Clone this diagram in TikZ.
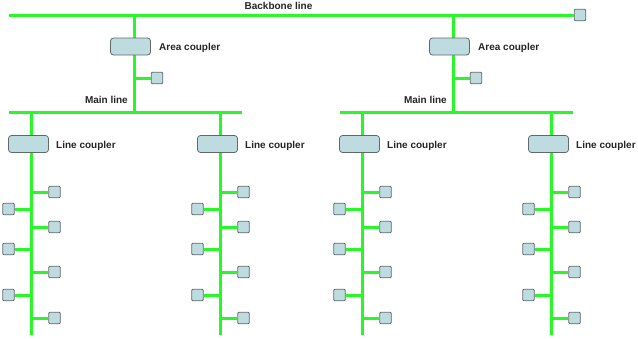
\documentclass[tikz,border=0pt]{standalone}
\usepackage{fontspec}
\setmainfont{Liberation Sans}
\definecolor{busgreen}{RGB}{40,248,40}
\definecolor{devfill}{RGB}{190,220,224}
\definecolor{devdraw}{RGB}{95,105,108}
\begin{document}
\begin{tikzpicture}[x=1pt,y=-1pt,
  bus/.style={draw=busgreen,line width=3pt},
  dev/.style={draw=devdraw,fill=devfill,line width=0.8pt,minimum width=11.5pt,minimum height=11.5pt,inner sep=0pt,rounded corners=1pt},
  coupler/.style={draw=devdraw,fill=devfill,line width=0.8pt,minimum width=40pt,minimum height=17pt,inner sep=0pt,rounded corners=3pt},
  lbl/.style={font=\bfseries\fontsize{10}{12}\selectfont,inner sep=0pt,text=black!85}]
\useasboundingbox (0,0) rectangle (638,338);
\fill[white] (0,0) rectangle (638,338);
% backbone
\coordinate (bbL) at (9,15);
\node[dev] (bbDev) at (580,15) {};
\draw[bus] (bbL) -- (bbDev.west);
\node[lbl] (bbLbl) at (278.5,6) {Backbone line};
% areas
\foreach \a/\x/\ml/\mr in {1/134/9/242, 2/453/340/573} {
  \coordinate (top\a) at (\x,15);
  \coordinate (ml\a) at (\x,112);
  \coordinate (mlL\a) at (\ml,112);
  \coordinate (mlR\a) at (\mr,112);
  \coordinate (st\a) at (\x,78);
  \draw[bus] (top\a) -- (ml\a);
  \draw[bus] (mlL\a) -- (mlR\a);
  \node[dev] (ad\a) at (\x+23,78) {};
  \draw[bus] (st\a) -- (ad\a.west);
  \node[coupler] (ac\a) at (\x-3.5,46.5) {};
  \node[lbl,anchor=west] (acl\a) at (\x+25,48) {Area coupler};
  \node[lbl,anchor=east] (mll\a) at (\x-6,100) {Main line};
}
% lines
\foreach \c/\x in {1/31,2/220,3/362,4/551} {
  \coordinate (lt\c) at (\x,112);
  \coordinate (lb\c) at (\x,335);
  \draw[bus] (lt\c) -- (lb\c);
  \foreach \i/\y in {1/192,2/227,3/272,4/318} {
    \coordinate (rs\c\i) at (\x,\y);
    \node[dev] (rd\c\i) at (\x+23.5,\y) {};
    \draw[bus] (rs\c\i) -- (rd\c\i.west);
  }
  \foreach \i/\y in {1/209,2/249,3/295} {
    \coordinate (ls\c\i) at (\x,\y);
    \node[dev] (ld\c\i) at (\x-22.5,\y) {};
    \draw[bus] (ls\c\i) -- (ld\c\i.east);
  }
  \node[coupler] (lc\c) at (\x-2.5,144) {};
  \node[lbl,anchor=west] (lcl\c) at (\x+25,146) {Line coupler};
}
\end{tikzpicture}
\end{document}
